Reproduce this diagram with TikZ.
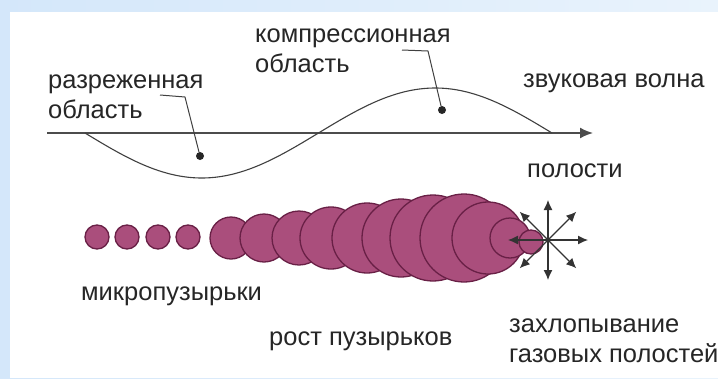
\documentclass[tikz,border=0pt]{standalone}
\usepackage{fontspec}
\setmainfont{Liberation Sans}
\usetikzlibrary{arrows.meta}

\definecolor{bfill}{RGB}{170,78,124}
\definecolor{bborde}{RGB}{105,32,70}
\definecolor{fondoA}{RGB}{212,231,250}
\definecolor{fondoB}{RGB}{233,243,252}

\begin{document}
\begin{tikzpicture}[x=1pt,y=-1pt,
    etiqueta/.style={anchor=base west,inner sep=0pt,text=black!85,align=left,
        font=\fontsize{25.5}{30}\selectfont},
    burbuja/.style={circle,draw=bborde,line width=1.3pt,fill=bfill,inner sep=0pt,minimum size=#1},
    punto/.style={circle,fill=black!85,inner sep=0pt,minimum size=8pt},
    guia/.style={black!75,line width=1pt},
    flecha/.style={black!80,line width=1.2pt,-{Latex[length=10pt,width=9pt]}}]
    \useasboundingbox (0,0) rectangle (718,378);

    % fondo
    \fill[left color=fondoA,right color=fondoB] (0,0) rectangle (718,378);
    \fill[white] (10,12) rectangle (718,378);

    % eje y onda
    \coordinate (ini) at (47,133);
    \coordinate (fin) at (593,133);
    \draw[black!70,line width=1.8pt,-{Latex[length=13pt,width=11pt]}] (ini) -- (fin);
    \draw[black!75,line width=1.1pt] plot[domain=0:360,samples=90,smooth]
        ({85+\x/360*467},{133+45*sin(\x)});

    % puntos y lineas guia
    \node[punto] (rar) at (200,156) {};
    \node[punto] (comp) at (442,110) {};
    \coordinate (r0) at (160,95);
    \coordinate (r1) at (185,97);
    \coordinate (c0) at (402,50);
    \coordinate (c1) at (428,51);
    \draw[guia] (r0) -- (r1) -- (rar);
    \draw[guia] (c0) -- (c1) -- (comp);

    % textos (base = ultima linea)
    \node[etiqueta] (trar) at (48,118) {разреженная\\область};
    \node[etiqueta] (tcomp) at (255,72) {компрессионная\\область};
    \node[etiqueta] (tonda) at (523,87) {звуковая волна};
    \node[etiqueta] (tpol) at (527,177) {полости};
    \node[etiqueta] (tmicro) at (81,300) {микропузырьки};
    \node[etiqueta] (trost) at (269,345) {рост пузырьков};
    \node[etiqueta] (tcol) at (509,362) {захлопывание\\газовых полостей};

    % burbujas
    \foreach \x [count=\i] in {97,127,158,188}
        \node[burbuja=24pt] (m\i) at (\x,237) {};
    \foreach \x/\d [count=\i] in {231/42,264/48,299/54,331/62,367/70,401/78,433/86,464/88,488/72,510/40}
        \node[burbuja=\d pt] (b\i) at (\x,238) {};
    \node[burbuja=24pt] (col) at (531,242) {};

    % estrella
    \coordinate (cen) at (548,240);
    \foreach \a in {0,45,...,315}{
        \path (cen) ++(\a:40) coordinate (e\a);
        \draw[flecha] (cen) -- (e\a);
    }
\end{tikzpicture}
\end{document}
